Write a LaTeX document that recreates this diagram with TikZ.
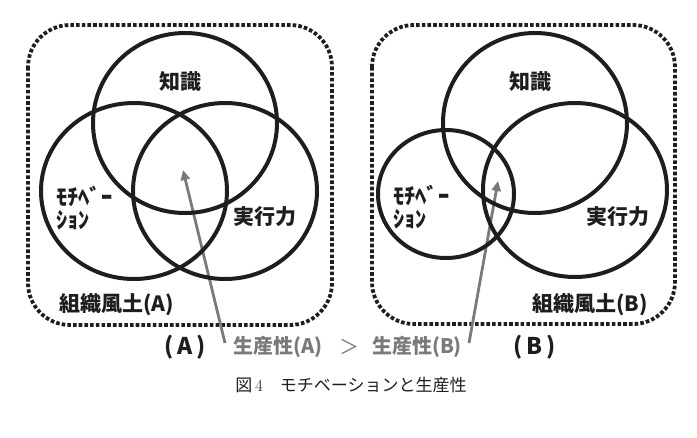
\documentclass[tikz,border=0pt]{standalone}
\usepackage{fontspec}
\newfontfamily\cjk{Noto Sans CJK JP}
\usetikzlibrary{arrows.meta}
\definecolor{arrowgray}{HTML}{7A7A7A}
\definecolor{ink}{HTML}{1E1E1E}
\tikzset{
  venn/.style={draw=ink, line width=4pt},
  frame/.style={draw=ink, line width=3.8pt, dash pattern=on 3.6pt off 2.1pt, rounded corners=42pt},
  lbl/.style={font=\cjk\bfseries\fontsize{21}{21}\selectfont, inner sep=0pt, text=ink},
  blbl/.style={font=\cjk\bfseries\fontsize{23}{23}\selectfont, inner sep=0pt, text=ink},
  klbl/.style={font=\cjk\bfseries\fontsize{22.5}{22.5}\selectfont, inner sep=0pt, text=ink},
  glbl/.style={font=\cjk\bfseries\fontsize{20}{20}\selectfont, inner sep=0pt, text=arrowgray},
  gsym/.style={font=\cjk\fontsize{20}{20}\selectfont, inner sep=0pt, text=arrowgray},
  captext/.style={font=\cjk\fontsize{17}{17}\selectfont, inner sep=0pt, text=ink},
  garrow/.style={draw=arrowgray, line width=2.8pt, -{Triangle[length=10pt,width=9pt]}}
}
\begin{document}
\begin{tikzpicture}[x=1pt,y=-1pt]
\useasboundingbox (0,0) rectangle (697,437);
% frames
\draw[frame] (28,25) rectangle (332,325);
\draw[frame] (372,25) rectangle (675,324);
% arrow end points
\coordinate (tA) at (225,343);
\coordinate (hA) at (183,170);
\coordinate (tB) at (469,343);
\coordinate (hB) at (498,181);
\draw[garrow] (tA) -- (hA);
\draw[garrow] (tB) -- (hB);
% left venn
\draw[venn] (185,123) ellipse [x radius=92, y radius=90];
\draw[venn] (134,191) ellipse [x radius=93, y radius=88];
\draw[venn] (225,191) ellipse [x radius=92, y radius=88];
% right venn
\draw[venn] (535,123) ellipse [x radius=92, y radius=90];
\draw[venn] (446,194) ellipse [x radius=68, y radius=64];
\draw[venn] (575,190) ellipse [x radius=92, y radius=87];
% labels left
\node[lbl] (kA) at (180,82) {知識};
\node[klbl, anchor=west] (m1A) at (56,196) {ﾓﾁﾍﾞｰ};
\node[klbl, anchor=west] (m2A) at (56,220) {ｼｮﾝ};
\node[lbl] (jA) at (265,217) {実行力};
\node[lbl, anchor=west] (oA) at (59,305) {組織風土(A)};
% labels right
\node[lbl] (kB) at (530,82) {知識};
\node[klbl, anchor=west] (m1B) at (393,195) {ﾓﾁﾍﾞｰ};
\node[klbl, anchor=west] (m2B) at (393,219) {ｼｮﾝ};
\node[lbl] (jB) at (618,217) {実行力};
\node[lbl, anchor=east] (oB) at (648,305) {組織風土(B)};
% bottom labels
\node[blbl] (pA) at (185,347) {(\,A\,)};
\node[glbl] (gA) at (278,347) {生産性(A)};
\node[gsym] (gt) at (349,347) {＞};
\node[glbl] (gB) at (417,347) {生産性(B)};
\node[blbl] (pB) at (535,347) {(\,B\,)};
% caption
\node[captext] (caption) at (351,385) {図{\rmfamily\,4}\quad モチベーションと生産性};
\end{tikzpicture}
\end{document}
